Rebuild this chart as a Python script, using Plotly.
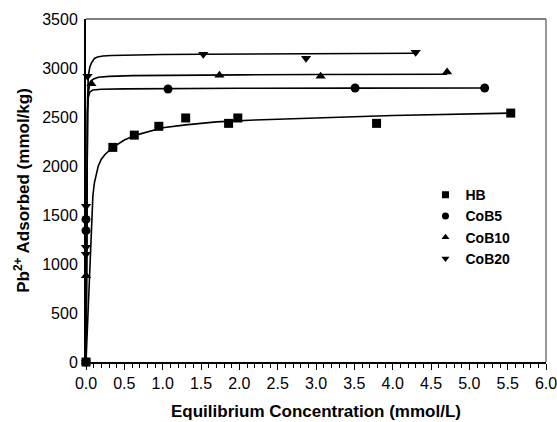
import plotly.graph_objects as go

# ---- data ----
series_names = ["HB", "CoB5", "CoB10", "CoB20"]
marker_symbols = ["square", "circle", "triangle-up", "triangle-down"]

hb_x = [0.0, 0.35, 0.63, 0.95, 1.30, 1.86, 1.98, 3.79, 5.54]
hb_y = [0, 2190, 2315, 2405, 2490, 2435, 2490, 2435, 2540]
cob5_x = [0.0, 0.0, 0.0, 1.07, 3.51, 5.20]
cob5_y = [0, 1340, 1455, 2786, 2796, 2796]
cob10_x = [0.0, 0.0, 0.07, 1.74, 3.06, 4.71]
cob10_y = [0, 880, 2840, 2925, 2915, 2960]
cob20_x = [0.0, 0.0, 0.0, 0.0, 0.02, 1.53, 2.87, 4.30]
cob20_y = [0, 1100, 1170, 1590, 2915, 3140, 3100, 3160]

# fitted isotherm curves
hb_fit_x = [0.0, 0.01, 0.02, 0.03, 0.04, 0.05, 0.06, 0.07, 0.08, 0.09, 0.11, 0.13, 0.16, 0.2, 0.25, 0.35, 0.5, 0.65, 0.8, 1.0, 1.3, 1.7, 2.2, 3.0, 4.0, 5.54]
hb_fit_y = [0, 200, 400, 580, 750, 940, 1160, 1380, 1560, 1700, 1830, 1915, 2000, 2070, 2120, 2190, 2265, 2315, 2350, 2390, 2420, 2450, 2470, 2490, 2515, 2540]
cob5_fit_x = [0.0, 0.005, 0.01, 0.015, 0.02, 0.03, 0.05, 0.09, 0.2, 0.5, 1.0, 2.0, 3.5, 5.2]
cob5_fit_y = [0, 900, 1700, 2250, 2550, 2700, 2755, 2776, 2783, 2787, 2790, 2793, 2795, 2796]
cob10_fit_x = [0.0, 0.005, 0.01, 0.015, 0.02, 0.03, 0.05, 0.07, 0.1, 0.16, 0.3, 0.6, 1.0, 2.0, 3.0, 4.71]
cob10_fit_y = [0, 800, 1600, 2200, 2550, 2750, 2840, 2870, 2888, 2905, 2915, 2922, 2926, 2930, 2933, 2936]
cob20_fit_x = [0.0, 0.005, 0.01, 0.015, 0.02, 0.03, 0.05, 0.07, 0.09, 0.11, 0.15, 0.22, 0.33, 0.6, 1.0, 1.5, 2.5, 3.5, 4.30]
cob20_fit_y = [0, 800, 1600, 2250, 2650, 2920, 3010, 3050, 3080, 3098, 3112, 3122, 3128, 3133, 3137, 3140, 3145, 3148, 3150]

x_tick_vals = [0.0, 0.5, 1.0, 1.5, 2.0, 2.5, 3.0, 3.5, 4.0, 4.5, 5.0, 5.5, 6.0]
x_tick_text = ["0.0", "0.5", "1.0", "1.5", "2.0", "2.5", "3.0", "3.5", "4.0", "4.5", "5.0", "5.5", "6.0"]
y_tick_vals = [0, 500, 1000, 1500, 2000, 2500, 3000, 3500]

points = [(hb_x, hb_y), (cob5_x, cob5_y), (cob10_x, cob10_y), (cob20_x, cob20_y)]
fits = [(hb_fit_x, hb_fit_y), (cob5_fit_x, cob5_fit_y), (cob10_fit_x, cob10_fit_y), (cob20_fit_x, cob20_fit_y)]

fig = go.Figure()
for fx, fy in fits:
    fig.add_trace(go.Scatter(x=fx, y=fy, mode="lines", line=dict(color="black", width=1.6),
                             showlegend=False, hoverinfo="skip", cliponaxis=False))
for name, sym, (px, py) in zip(series_names, marker_symbols, points):
    fig.add_trace(go.Scatter(x=px, y=py, mode="markers", name=name, showlegend=False,
                             marker=dict(symbol=sym, size=9, color="black"),
                             cliponaxis=False))
# legend entries with smaller symbols, as in the reference
for name, sym in zip(series_names, marker_symbols):
    fig.add_trace(go.Scatter(x=[None], y=[None], mode="markers", name=name, legendgroup=name,
                             marker=dict(symbol=sym, size=7, color="black")))

font_family = "Liberation Sans, Arial, sans-serif"

fig.update_layout(
    width=557, height=422,
    margin=dict(l=86, r=11, t=19, b=60),
    plot_bgcolor="white", paper_bgcolor="white",
    font=dict(family=font_family, color="black", size=16),
    showlegend=True,
    legend=dict(x=0.738, y=0.533, xanchor="left", yanchor="top",
                font=dict(family=font_family, size=14, color="black", weight="bold"),
                bgcolor="rgba(0,0,0,0)", itemwidth=30, tracegroupgap=0),
    xaxis=dict(range=[0, 6], tickvals=x_tick_vals, ticktext=x_tick_text, automargin=False,
               ticks="outside", ticklen=6, tickwidth=1.2, tickcolor="black",
               ticklabeloverflow="allow",
               minor=dict(dtick=0.1, ticks="outside", ticklen=4, tickwidth=1, tickcolor="black"),
               showline=True, linecolor="black", linewidth=2, showgrid=False, zeroline=False,
               tickfont=dict(size=16),
               title=dict(text="<b>Equilibrium Concentration (mmol/L)</b>", font=dict(size=17), standoff=14)),
    yaxis=dict(range=[0, 3500], tickvals=y_tick_vals, ticks="", showline=True, automargin=False,
               linecolor="black", linewidth=2, showgrid=False, zeroline=False,
               tickfont=dict(size=16), ticklabelstandoff=3, ticklabeloverflow="allow",
               title=dict(text="<b>Pb<sup>2+</sup> Adsorbed (mmol/kg)</b>", font=dict(size=17), standoff=8)),
    shapes=[
        dict(type="line", xref="paper", yref="paper", x0=0, x1=1, y0=1, y1=1,
             line=dict(color="#555555", width=1.5)),
        dict(type="line", xref="paper", yref="paper", x0=1, x1=1, y0=0, y1=1,
             line=dict(color="#777777", width=1.5)),
    ],
)

fig.write_html("out.html", config={"displayModeBar": False},
               post_script="document.body.style.margin='0px';")
